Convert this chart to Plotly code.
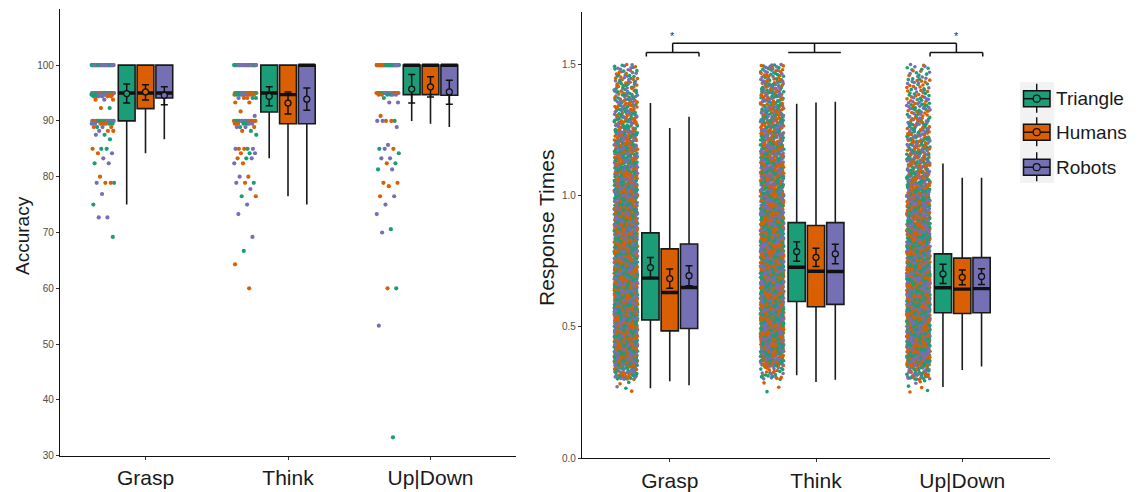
import plotly.graph_objects as go

W, H = 1140, 492          # target picture size
OFF = 8                   # page body margin of the browser
FW, FH = W - OFF, H - OFF # figure size

categories = ["Grasp", "Think", "Up|Down"]
groups = ["Triangle", "Humans", "Robots"]
colors = ["#1B9E77", "#D95F02", "#7570B3"]

# ---------------- Accuracy: individual participant scores (value, counts per group) ----------------
acc_grasp_values = [100, 95, 94.7, 94.4, 93.8, 92.3, 90, 89.5, 88.9, 88.2, 87.5, 86.7, 85, 84.2, 83.3,
                    82.4, 80, 78.9, 76.9, 75, 72.7, 69.2]
acc_grasp_tri = [18, 10, 4, 2, 0, 1, 6, 2, 1, 0, 1, 1, 2, 0, 0, 1, 0, 1, 0, 1, 0, 1]
acc_grasp_hum = [14, 8, 3, 2, 2, 1, 5, 3, 2, 2, 0, 0, 1, 1, 0, 0, 1, 2, 0, 0, 0, 0]
acc_grasp_rob = [20, 9, 4, 2, 1, 0, 5, 2, 1, 1, 1, 0, 0, 1, 1, 1, 0, 1, 1, 0, 2, 0]

acc_think_values = [100, 95, 94.7, 94.1, 93.3, 91.7, 90.9, 90, 89.5, 88.9, 88.2, 87.5, 85, 84.2, 83.3,
                    82.4, 80, 78.9, 77.8, 76.5, 75, 73.3, 69.2, 66.7, 64.3, 60]
acc_think_tri = [14, 8, 3, 2, 0, 0, 0, 4, 2, 1, 1, 1, 1, 1, 1, 0, 0, 1, 0, 1, 0, 0, 0, 1, 0, 0]
acc_think_hum = [12, 8, 3, 2, 2, 1, 0, 5, 2, 1, 1, 0, 2, 1, 1, 1, 1, 1, 0, 1, 0, 0, 0, 0, 1, 1]
acc_think_rob = [18, 6, 3, 1, 0, 0, 1, 4, 2, 2, 0, 0, 2, 1, 1, 1, 1, 1, 1, 0, 1, 1, 1, 0, 0, 0]

acc_updown_values = [100, 95, 94.7, 94.1, 93.3, 90.9, 90, 88.9, 85.7, 85, 84.2, 83.3, 82.4, 81.3,
                     78.9, 78.3, 76.5, 75, 73.3, 70.6, 70, 60, 53.3, 33.3]
acc_updown_tri = [24, 6, 2, 1, 0, 0, 1, 0, 0, 1, 1, 0, 1, 1, 0, 0, 0, 0, 0, 1, 0, 1, 0, 1]
acc_updown_hum = [24, 7, 2, 0, 0, 1, 2, 0, 0, 1, 0, 0, 1, 0, 2, 1, 1, 0, 0, 0, 0, 1, 0, 0]
acc_updown_rob = [22, 6, 2, 0, 2, 0, 2, 1, 1, 1, 0, 2, 0, 1, 0, 0, 1, 1, 1, 0, 1, 0, 1, 0]

# Accuracy box / summary statistics, per category, groups in order Triangle, Humans, Robots
acc_q1 = [[90, 92.2, 94.1], [91.6, 89.5, 89.5], [94.7, 94.7, 94.6]]
acc_median = [[95, 95, 95], [95, 94.7, 100], [100, 100, 100]]
acc_q3 = [[100, 100, 100], [100, 100, 100], [100, 100, 100]]
acc_low = [[75, 84.2, 86.7], [83.3, 76.5, 75], [90, 89.5, 88.9]]
acc_high = [[100, 100, 100], [100, 100, 100], [100, 100, 100]]
acc_mean = [[94.9, 95.2, 94.6], [94.4, 93.2, 93.9], [95.7, 96.1, 95.2]]
acc_ci_up = [[1.7, 1.3, 1.5], [1.7, 2.0, 2.0], [2.6, 1.8, 2.1]]
acc_ci_down = [[1.7, 1.45, 1.7], [1.7, 1.95, 2.0], [2.5, 1.8, 2.2]]

# ---------------- Response times: trial counts per 0.05 s bin (bin lower edges) ----------------
rt_bin_edges = [0.25, 0.30, 0.35, 0.40, 0.45, 0.50, 0.55, 0.60, 0.65, 0.70, 0.75, 0.80, 0.85,
                0.90, 0.95, 1.00, 1.05, 1.10, 1.15, 1.20, 1.25, 1.30, 1.35, 1.40, 1.45]
rt_grasp_counts = [5, 55, 120, 145, 155, 155, 155, 150, 145, 135, 125, 118, 110, 104, 97, 90, 80, 72,
                   65, 58, 52, 46, 40, 35, 28]
rt_think_counts = [3, 30, 80, 125, 145, 150, 155, 155, 152, 145, 138, 130, 120, 110, 104, 95, 86, 78,
                   72, 66, 60, 55, 50, 44, 36]
rt_updown_counts = [7, 50, 112, 145, 155, 155, 152, 145, 137, 128, 118, 107, 98, 88, 80, 72, 65, 58,
                    52, 46, 40, 34, 29, 24, 18]

rt_q1 = [[0.527, 0.485, 0.494], [0.597, 0.577, 0.586], [0.554, 0.551, 0.554]]
rt_median = [[0.686, 0.631, 0.650], [0.727, 0.712, 0.711], [0.649, 0.644, 0.646]]
rt_q3 = [[0.858, 0.797, 0.816], [0.897, 0.886, 0.897], [0.778, 0.762, 0.764]]
rt_low = [[0.267, 0.293, 0.278], [0.316, 0.290, 0.299], [0.271, 0.336, 0.349]]
rt_high = [[1.352, 1.257, 1.300], [1.350, 1.354, 1.357], [1.122, 1.068, 1.068]]
rt_mean = [[0.726, 0.684, 0.695], [0.787, 0.765, 0.778], [0.702, 0.689, 0.692]]
rt_ci = [[0.038, 0.037, 0.038], [0.037, 0.035, 0.037], [0.037, 0.028, 0.030]]

# significance brackets (right panel, data units)
sig_lo = [0.84, 1.81, 2.78]
sig_hi = [1.20, 2.17, 3.14]
sig_end_ticks = [True, False, True]
sig_stars = [True, False, True]

# ---------------- styling ----------------
BOX_OFF = [-0.132, 0.0, 0.132]
BOX_W = 0.118
PT_OFF = -0.30
PT_HW = 0.08
PHI = 0.6180339887498949
FONT = "Liberation Sans, Arial, sans-serif"


def halton(i, base):
    f, r = 1.0, 0.0
    while i > 0:
        f /= base
        r += f * (i % base)
        i //= base
    return r


fig = go.Figure()


def add_points(xs, ys, cs, xa, ya, size):
    fig.add_trace(go.Scatter(x=xs, y=ys, mode="markers", xaxis=xa, yaxis=ya,
                             marker=dict(color=cs, size=size, line=dict(width=0)),
                             hoverinfo="skip", showlegend=False))


# accuracy points
acc_tables = [
    (acc_grasp_values, [acc_grasp_tri, acc_grasp_hum, acc_grasp_rob]),
    (acc_think_values, [acc_think_tri, acc_think_hum, acc_think_rob]),
    (acc_updown_values, [acc_updown_tri, acc_updown_hum, acc_updown_rob]),
]
for ci, (vals, cnts) in enumerate(acc_tables):
    xs, ys, cs = [], [], []
    k = 0
    for vi, v in enumerate(vals):
        m = max(c[vi] for c in cnts)
        for r in range(m):
            for g in range(3):
                if r < cnts[g][vi]:
                    k += 1
                    xs.append(ci + 1 + PT_OFF + PT_HW * (2 * ((k * PHI) % 1) - 1))
                    ys.append(v)
                    cs.append(colors[g])
    add_points(xs, ys, cs, "x", "y", 4.2)

# response time points (trials placed within their bins, horizontally jittered)
rt_tables = [rt_grasp_counts, rt_think_counts, rt_updown_counts]
binw = rt_bin_edges[1] - rt_bin_edges[0]
for ci, counts in enumerate(rt_tables):
    xs, ys, cs = [], [], []
    k = 0
    for lo, n in zip(rt_bin_edges, counts):
        for j in range(n):
            k += 1
            xs.append(ci + 1 + PT_OFF + PT_HW * (2 * halton(k + 17 * ci, 2) - 1))
            ys.append(lo + binw * halton(k + 17 * ci, 3))
            cs.append(colors[int(halton(k, 5) * 3) % 3])
    add_points(xs, ys, cs, "x2", "y2", 3.6)


def add_boxes(q1, med, q3, lo, hi, mean, ci_up, ci_dn, xa, ya):
    for ci in range(3):
        for g in range(3):
            pos = ci + 1 + BOX_OFF[g]
            fig.add_trace(go.Box(x=[pos], q1=[q1[ci][g]], median=[med[ci][g]], q3=[q3[ci][g]],
                                 lowerfence=[lo[ci][g]], upperfence=[hi[ci][g]],
                                 width=BOX_W, fillcolor=colors[g],
                                 line=dict(color="#1a1a1a", width=1.6), whiskerwidth=0,
                                 boxpoints=False, xaxis=xa, yaxis=ya, hoverinfo="skip",
                                 showlegend=False))
    mx, my = [], []
    for ci in range(3):
        for g in range(3):
            pos = ci + 1 + BOX_OFF[g]
            mx += [pos - BOX_W / 2, pos + BOX_W / 2, None]
            my += [med[ci][g], med[ci][g], None]
    fig.add_trace(go.Scatter(x=mx, y=my, mode="lines", line=dict(color="#111111", width=3.4),
                             xaxis=xa, yaxis=ya, hoverinfo="skip", showlegend=False))
    for g in range(3):
        fig.add_trace(go.Scatter(
            x=[ci + 1 + BOX_OFF[g] for ci in range(3)],
            y=[mean[ci][g] for ci in range(3)],
            mode="markers", xaxis=xa, yaxis=ya,
            marker=dict(symbol="circle", size=6, color=colors[g], line=dict(color="#111111", width=1.3)),
            error_y=dict(type="data", symmetric=False,
                         array=[ci_up[ci][g] for ci in range(3)],
                         arrayminus=[ci_dn[ci][g] for ci in range(3)],
                         color="#111111", thickness=1.5, width=3.5),
            hoverinfo="skip", showlegend=False))


add_boxes(acc_q1, acc_median, acc_q3, acc_low, acc_high, acc_mean, acc_ci_up, acc_ci_down, "x", "y")
add_boxes(rt_q1, rt_median, rt_q3, rt_low, rt_high, rt_mean, rt_ci, rt_ci, "x2", "y2")


def PX(px):
    return (px - OFF) / FW


def PY(py):
    return 1 - (py - OFF) / FH


# significance brackets
shapes = []
top_y, br_y, tick_y = 1.580, 1.545, 1.529
centers = [(a + b) / 2 for a, b in zip(sig_lo, sig_hi)]
line_style = dict(color="#111111", width=1.5)
shapes.append(dict(type="line", xref="x2", yref="y2", x0=centers[0], x1=centers[-1], y0=top_y, y1=top_y,
                   line=line_style))
annotations = []
for lo, hi, c, tk, st in zip(sig_lo, sig_hi, centers, sig_end_ticks, sig_stars):
    shapes.append(dict(type="line", xref="x2", yref="y2", x0=lo, x1=hi, y0=br_y, y1=br_y, line=line_style))
    shapes.append(dict(type="line", xref="x2", yref="y2", x0=c, x1=c, y0=br_y, y1=top_y, line=line_style))
    if tk:
        for xx in (lo, hi):
            shapes.append(dict(type="line", xref="x2", yref="y2", x0=xx, x1=xx, y0=tick_y, y1=br_y,
                               line=line_style))
    if st:
        annotations.append(dict(x=c, y=top_y - 0.004, xref="x2", yref="y2", text="*", showarrow=False,
                                yanchor="bottom", font=dict(size=11, color="#333333", family=FONT)))

# custom legend
shapes.append(dict(type="rect", xref="paper", yref="paper", x0=PX(1020), x1=PX(1054), y0=PY(183), y1=PY(82),
                   fillcolor="#F2F2F2", line=dict(width=0), layer="below"))
leg_cy = [98.7, 132.2, 167.2]
for g, cy in enumerate(leg_cy):
    shapes.append(dict(type="line", xref="paper", yref="paper", x0=PX(1036.7), x1=PX(1036.7),
                       y0=PY(cy + 14), y1=PY(cy - 15), line=dict(color="#111111", width=1.4)))
    shapes.append(dict(type="rect", xref="paper", yref="paper", x0=PX(1023.5), x1=PX(1050),
                       y0=PY(cy + 8), y1=PY(cy - 8), fillcolor=colors[g],
                       line=dict(color="#111111", width=1.5)))
    shapes.append(dict(type="line", xref="paper", yref="paper", x0=PX(1023.5), x1=PX(1050),
                       y0=PY(cy), y1=PY(cy), line=dict(color="#111111", width=1.5)))
    shapes.append(dict(type="circle", xref="paper", yref="paper", x0=PX(1033.2), x1=PX(1040.2),
                       y0=PY(cy + 3.5), y1=PY(cy - 3.5), fillcolor=colors[g],
                       line=dict(color="#111111", width=1.2)))
    annotations.append(dict(x=PX(1054), y=PY(cy), xref="paper", yref="paper", text=groups[g],
                            showarrow=False, xanchor="left", yanchor="middle",
                            font=dict(size=19, color="#1a1a1a", family=FONT)))

# axis titles
annotations.append(dict(x=PX(22), y=PY(236), xref="paper", yref="paper", text="Accuracy", textangle=-90,
                        showarrow=False, xanchor="center", yanchor="middle",
                        font=dict(size=19, color="#1a1a1a", family=FONT)))
annotations.append(dict(x=PX(546), y=PY(228), xref="paper", yref="paper", text="Response Times",
                        textangle=-90, showarrow=False, xanchor="center", yanchor="middle",
                        font=dict(size=21, color="#1a1a1a", family=FONT)))

xcommon = dict(range=[0.4, 3.6], tickvals=[1, 2, 3], ticktext=categories, showline=True,
               linecolor="#111111", linewidth=1.3, ticks="outside", ticklen=3, tickcolor="#333333",
               tickwidth=1, showgrid=False, zeroline=False, automargin=False,
               tickfont=dict(size=21, color="#1a1a1a", family=FONT))
ycommon = dict(showline=True, linecolor="#111111", linewidth=1.3, ticks="outside", ticklen=3,
               tickcolor="#333333", tickwidth=1, showgrid=False, zeroline=False, automargin=False,
               tickfont=dict(size=10, color="#4d4d4d", family=FONT))

fig.update_layout(
    width=FW, height=FH, margin=dict(l=0, r=0, t=0, b=0),
    paper_bgcolor="white", plot_bgcolor="white", boxmode="overlay",
    showlegend=False, font=dict(family=FONT),
    xaxis=dict(domain=[PX(60), PX(516)], anchor="y", **xcommon),
    yaxis=dict(domain=[PY(455.7), PY(9.3)], anchor="x", range=[30, 110],
               tickvals=[30, 40, 50, 60, 70, 80, 90, 100], **ycommon),
    xaxis2=dict(domain=[PX(582), PX(1050)], anchor="y2", **xcommon),
    yaxis2=dict(domain=[PY(458.3), PY(11.7)], anchor="x2", range=[0, 1.7],
                tickvals=[0, 0.5, 1.0, 1.5], ticktext=["0.0", "0.5", "1.0", "1.5"], **ycommon),
    shapes=shapes, annotations=annotations,
)

fig.write_html("out.html")
